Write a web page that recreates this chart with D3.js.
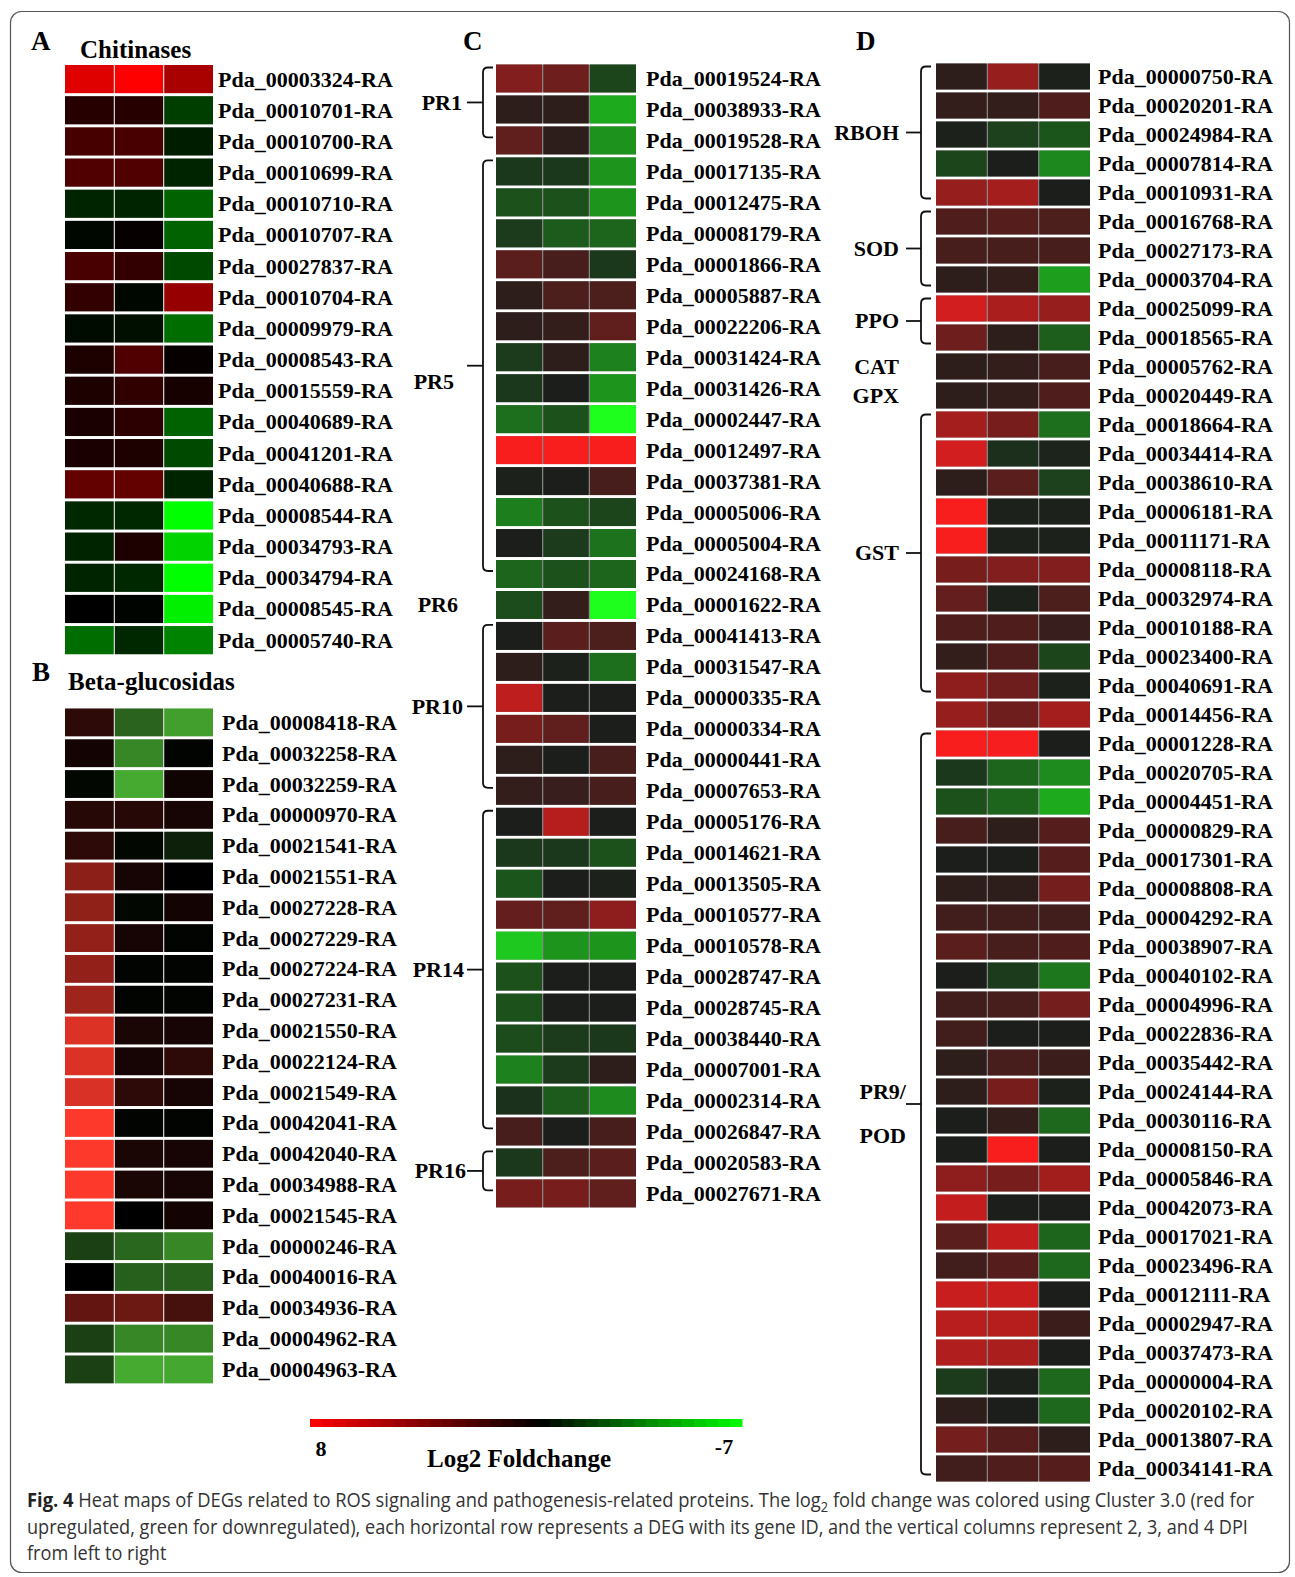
<!DOCTYPE html>
<html><head><meta charset="utf-8">
<script src="https://cdn.jsdelivr.net/npm/d3@7"></script>
<style>html,body{margin:0;padding:0;background:#fff}svg{display:block}</style>
</head><body>
<svg id="fig" width="1295" height="1577"></svg>
<script>
// ---------------- DATA ----------------
const timepoints = ["2 DPI", "3 DPI", "4 DPI"];

const genesA = ["Pda_00003324-RA","Pda_00010701-RA","Pda_00010700-RA","Pda_00010699-RA","Pda_00010710-RA","Pda_00010707-RA","Pda_00027837-RA","Pda_00010704-RA","Pda_00009979-RA","Pda_00008543-RA","Pda_00015559-RA","Pda_00040689-RA","Pda_00041201-RA","Pda_00040688-RA","Pda_00008544-RA","Pda_00034793-RA","Pda_00034794-RA","Pda_00008545-RA","Pda_00005740-RA"];
const valuesA = [[7,8,5.3],[1.2,1.2,-1.7],[2.2,2.3,-0.8],[2.5,2.5,-1],[-1,-1,-2.7],[-0.2,0.2,-2.7],[2.3,1.6,-2],[1.6,-0.2,4.7],[-0.3,-0.4,-3],[0.9,2.5,0.2],[0.9,1.5,0.7],[0.8,1.4,-2.7],[0.8,0.9,-2],[3.1,3.1,-1],[-1.1,-1.1,-7],[-1,0.9,-5.8],[-1,-1.1,-7],[0,-0.1,-6.6],[-3,-1.1,-3.6]];

const genesB = ["Pda_00008418-RA","Pda_00032258-RA","Pda_00032259-RA","Pda_00000970-RA","Pda_00021541-RA","Pda_00021551-RA","Pda_00027228-RA","Pda_00027229-RA","Pda_00027224-RA","Pda_00027231-RA","Pda_00021550-RA","Pda_00022124-RA","Pda_00021549-RA","Pda_00042041-RA","Pda_00042040-RA","Pda_00034988-RA","Pda_00021545-RA","Pda_00000246-RA","Pda_00040016-RA","Pda_00034936-RA","Pda_00004962-RA","Pda_00004963-RA"];
const valuesB = [[1.4,-2.8,-4.5],[0.6,-3.8,-0.1],[-0.2,-4.8,0.5],[1.2,1.2,0.7],[1.4,-0.2,-0.9],[4.4,0.7,0],[4.5,-0.2,0.6],[4.6,0.7,-0.1],[4.6,-0.1,-0.1],[5,-0.1,-0.1],[6.9,0.8,0.7],[6.9,0.7,1.4],[6.8,1.4,0.7],[7.9,-0.1,-0.1],[7.9,0.8,0.7],[7.9,0.8,0.7],[8,0,0.6],[-1.8,-2.9,-3.8],[0,-2.7,-2.7],[3.1,3.4,2.2],[-1.8,-3.8,-3.8],[-1.8,-4.8,-4.7]];

const genesC = ["Pda_00019524-RA","Pda_00038933-RA","Pda_00019528-RA","Pda_00017135-RA","Pda_00012475-RA","Pda_00008179-RA","Pda_00001866-RA","Pda_00005887-RA","Pda_00022206-RA","Pda_00031424-RA","Pda_00031426-RA","Pda_00002447-RA","Pda_00012497-RA","Pda_00037381-RA","Pda_00005006-RA","Pda_00005004-RA","Pda_00024168-RA","Pda_00001622-RA","Pda_00041413-RA","Pda_00031547-RA","Pda_00000335-RA","Pda_00000334-RA","Pda_00000441-RA","Pda_00007653-RA","Pda_00005176-RA","Pda_00014621-RA","Pda_00013505-RA","Pda_00010577-RA","Pda_00010578-RA","Pda_00028747-RA","Pda_00028745-RA","Pda_00038440-RA","Pda_00007001-RA","Pda_00002314-RA","Pda_00026847-RA","Pda_00020583-RA","Pda_00027671-RA"];
const valuesC = [[3.6,2.9,-1.2],[0.6,0.6,-4.4],[2.4,0.6,-3.6],[-0.8,-0.8,-3.7],[-1.6,-1.6,-3.7],[-0.9,-1.9,-2.2],[2.2,1.5,-0.8],[0.6,1.7,1.7],[0.6,0.8,2.4],[-0.9,0.6,-3.1],[-0.8,0,-3.7],[-2.5,-1.6,-7],[7.8,7.8,7.8],[-0.1,0,1.5],[-3,-1.6,-1.2],[0,-0.9,-2.6],[-2.2,-1.6,-2.2],[-1.4,0.8,-7],[0,2.2,1.7],[0.6,-0.1,-2.5],[5.7,0,0],[3.2,2.4,0],[0.6,0,1.5],[0.8,1,1.5],[0,5.4,0],[-0.8,-0.8,-1.6],[-1.7,0,-0.1],[2.5,2.4,4],[-5.3,-3.7,-3.7],[-1.6,0,0],[-1.6,0,0],[-1.4,-0.9,-0.8],[-3.1,-0.9,0.6],[-0.6,-1.9,-3.4],[1.5,0,1.5],[-0.8,1.7,2.2],[3.2,3.2,2.4]];
const groupsC = [
  {name:["PR1"], first:"Pda_00019524-RA", last:"Pda_00019528-RA", bracket:true},
  {name:["PR5"], first:"Pda_00017135-RA", last:"Pda_00024168-RA", bracket:true},
  {name:["PR6"], first:"Pda_00001622-RA", last:"Pda_00001622-RA", bracket:false},
  {name:["PR10"], first:"Pda_00041413-RA", last:"Pda_00007653-RA", bracket:true},
  {name:["PR14"], first:"Pda_00005176-RA", last:"Pda_00026847-RA", bracket:true},
  {name:["PR16"], first:"Pda_00020583-RA", last:"Pda_00027671-RA", bracket:true}
];

const genesD = ["Pda_00000750-RA","Pda_00020201-RA","Pda_00024984-RA","Pda_00007814-RA","Pda_00010931-RA","Pda_00016768-RA","Pda_00027173-RA","Pda_00003704-RA","Pda_00025099-RA","Pda_00018565-RA","Pda_00005762-RA","Pda_00020449-RA","Pda_00018664-RA","Pda_00034414-RA","Pda_00038610-RA","Pda_00006181-RA","Pda_00011171-RA","Pda_00008118-RA","Pda_00032974-RA","Pda_00010188-RA","Pda_00023400-RA","Pda_00040691-RA","Pda_00014456-RA","Pda_00001228-RA","Pda_00020705-RA","Pda_00004451-RA","Pda_00000829-RA","Pda_00017301-RA","Pda_00008808-RA","Pda_00004292-RA","Pda_00038907-RA","Pda_00040102-RA","Pda_00004996-RA","Pda_00022836-RA","Pda_00035442-RA","Pda_00024144-RA","Pda_00030116-RA","Pda_00008150-RA","Pda_00005846-RA","Pda_00042073-RA","Pda_00017021-RA","Pda_00023496-RA","Pda_00012111-RA","Pda_00002947-RA","Pda_00037473-RA","Pda_00000004-RA","Pda_00020102-RA","Pda_00013807-RA","Pda_00034141-RA"];
const valuesD = [[0.6,4.3,-0.1],[0.8,0.8,1.8],[-0.1,-1.1,-1.7],[-1.2,0,-3.3],[4.3,4.8,0],[1.8,2,1.7],[1.5,1.5,1.5],[0.6,0.8,-4],[6.4,5,4.3],[2.9,0.6,-2],[0.6,0.8,1.5],[0.6,0.8,1.8],[4.8,3.2,-2.5],[6.4,-0.5,-0.2],[0.6,2.2,-1.1],[7.8,-0.1,-0.1],[7.8,-0.1,-0.1],[3.2,3.6,3.6],[2.5,-0.1,1.7],[1.8,1.8,1],[0.8,1.8,-1.2],[4,2.9,-0.1],[4.3,2.9,4.8],[7.8,7.7,0],[-0.8,-2.2,-3.4],[-1.6,-2.2,-4.4],[1.5,0.6,2],[0,0,2],[0.6,0.6,3.1],[1.3,1.3,1.3],[2.2,1.5,1.8],[0,-0.9,-2.8],[1.3,1.5,3.1],[1.3,0,0],[0.6,1.5,1.1],[0.6,3.2,-0.1],[0,0.8,-2.3],[0,7.8,0],[4,3.2,4.7],[5.9,0,0],[2.2,5.9,-2.2],[1.3,2,-2.3],[6.1,6.1,0],[5.5,5.4,1.1],[5.2,5,0],[-0.9,-0.1,-2.3],[0.6,0,-2.3],[3.1,2,0.6],[1.3,1.8,2]];
const groupsD = [
  {name:["RBOH"], first:"Pda_00000750-RA", last:"Pda_00010931-RA", bracket:true},
  {name:["SOD"], first:"Pda_00016768-RA", last:"Pda_00003704-RA", bracket:true},
  {name:["PPO"], first:"Pda_00025099-RA", last:"Pda_00018565-RA", bracket:true},
  {name:["CAT"], first:"Pda_00005762-RA", last:"Pda_00005762-RA", bracket:false},
  {name:["GPX"], first:"Pda_00020449-RA", last:"Pda_00020449-RA", bracket:false},
  {name:["GST"], first:"Pda_00018664-RA", last:"Pda_00040691-RA", bracket:true},
  {name:["PR9/","POD"], first:"Pda_00001228-RA", last:"Pda_00034141-RA", bracket:true}
];

const legendDomain = [8, -7];
const legendTicks = ["8", "-7"];
const legendTitle = "Log2 Foldchange";
const captionBold = "Fig. 4";
const captionLine1 = ["Heat maps of DEGs related to ROS signaling and pathogenesis-related proteins. The log", "2", " fold change was colored using Cluster 3.0 (red for"];
const captionLine2 = "upregulated, green for downregulated), each horizontal row represents a DEG with its gene ID, and the vertical columns represent 2, 3, and 4 DPI";
const captionLine3 = "from left to right";

// ---------------- STYLE / LAYOUT ----------------
const SERIF = "'Liberation Serif','Times New Roman',Times,serif";
const SANS = "'Liberation Sans Narrow','Open Sans','Liberation Sans',sans-serif";
const palettes = {
  A: {neg:"#00ff00", mid:"#000000", pos:"#ff0000"},
  B: {neg:"#66f848", mid:"#000000", pos:"#ff3a2c"},
  C: {neg:"#1eff1e", mid:"#1c1e1c", pos:"#ff1e1e"}
};
// small layout nudges for group labels (dx, dy in px)
const labelNudge = {"PR5":[-8,16], "PR6":[-4,0], "PR10":[1,0], "PR14":[2,0], "PR16":[4,0], "PR9/":[7,-12], "POD":[7,-12]};

function colorScale(p){
  return d3.scaleLinear().domain([-7,0,8]).range([p.neg,p.mid,p.pos]).interpolate(d3.interpolateRgb).clamp(true);
}

const svg = d3.select("#fig");
svg.append("rect").attr("x",10.5).attr("y",11.5).attr("width",1279).attr("height",1561)
  .attr("rx",11).attr("fill","#fff").attr("stroke","#555").attr("stroke-width",1.2);

function heatmap(cfg){
  const g = svg.append("g");
  const x = d3.scaleBand().domain(timepoints).range([cfg.x0, cfg.x1]);
  const n = cfg.genes.length;
  const gapFrac = 3/cfg.step;
  const y = d3.scaleBand().domain(cfg.genes).range([cfg.top, cfg.top + n*cfg.step])
    .paddingInner(gapFrac).paddingOuter(gapFrac/2);
  const color = colorScale(cfg.palette);
  const rows = g.selectAll("g.row").data(cfg.genes.map((gn,i)=>({gene:gn, vals:cfg.values[i]})))
    .join("g").attr("class","row");
  rows.append("rect").attr("x",cfg.x0).attr("width",cfg.x1-cfg.x0)
    .attr("y",d=>y(d.gene)).attr("height",y.bandwidth()).attr("fill",cfg.sepColor);
  rows.selectAll("rect.cell").data(d=>d.vals.map((v,j)=>({gene:d.gene, t:timepoints[j], v})))
    .join("rect").attr("class","cell")
    .attr("x",d=>x(d.t)+(d.t===timepoints[0]?0:0.6))
    .attr("width",d=>x.bandwidth()-(d.t===timepoints[0]?0:0.6)-(d.t===timepoints[2]?0:0.6))
    .attr("y",d=>y(d.gene)).attr("height",y.bandwidth())
    .attr("fill",d=>color(d.v));
  g.selectAll("text.gene").data(cfg.genes).join("text").attr("class","gene")
    .attr("x",cfg.labelX).attr("y",d=>y(d)+y.bandwidth()/2).attr("dy","0.34em")
    .attr("font-family",SERIF).attr("font-weight","bold").attr("font-size",22).attr("fill","#000")
    .text(d=>d);
  return {x,y};
}

function groups(scales, list, o){
  const y = scales.y, bw = scales.y.bandwidth();
  const g = svg.append("g").attr("fill","none").attr("stroke","#111").attr("stroke-width",1.8);
  list.forEach(gr=>{
    const c1 = y(gr.first)+bw/2, c2 = y(gr.last)+bw/2;
    let top = c1 + o.topOff, bot = c2 + o.botOff;
    const mid = gr.bracket ? (top+bot)/2 : c1;
    if(gr.bracket){
      const xv = o.xv, r = 5, hk = o.hook;
      g.append("path").attr("d",
        `M${xv+hk},${top} L${xv+r},${top} Q${xv},${top} ${xv},${top+r} L${xv},${bot-r} Q${xv},${bot} ${xv+r},${bot} L${xv+hk},${bot}`);
      g.append("line").attr("x1",o.tickX).attr("x2",xv).attr("y1",mid).attr("y2",mid);
    }
    gr.name.forEach((nm,k)=>{
      const nd = labelNudge[nm] || [0,0];
      svg.append("text").attr("x",o.textX + nd[0]).attr("y",mid + nd[1] + k*44).attr("dy","0.34em")
        .attr("text-anchor","end").attr("font-family",SERIF).attr("font-weight","bold")
        .attr("font-size",22).attr("fill","#000").text(nm);
    });
  });
}

function label(txt,x,y,size,anchor){
  svg.append("text").attr("x",x).attr("y",y).attr("font-family",SERIF).attr("font-weight","bold")
    .attr("font-size",size).attr("text-anchor",anchor||"start").attr("fill","#000").text(txt);
}

// Panel A
label("A",31,50,27);
label("Chitinases",80,58,25);
heatmap({genes:genesA, values:valuesA, x0:65, x1:213, top:63.5, step:31.17, labelX:218, palette:palettes.A, sepColor:"#d9d9d9"});
// Panel B
label("B",32,681,27);
label("Beta-glucosidas",68,690,25);
heatmap({genes:genesB, values:valuesB, x0:65, x1:213, top:707, step:30.81, labelX:222, palette:palettes.B, sepColor:"#d9d9d9"});
// Panel C
label("C",463,50,27);
const sC = heatmap({genes:genesC, values:valuesC, x0:496, x1:636, top:63, step:30.97, labelX:646, palette:palettes.C, sepColor:"#8a8a8a"});
groups(sC, groupsC, {xv:483, hook:10, tickX:467, textX:462, topOff:-11, botOff:-3});
// Panel D
label("D",856,50,27);
const sD = heatmap({genes:genesD, values:valuesD, x0:936, x1:1090, top:62, step:29.0, labelX:1098, palette:palettes.C, sepColor:"#8a8a8a"});
groups(sD, groupsD, {xv:921, hook:10, tickX:906, textX:899, topOff:-10, botOff:6});

// Legend
(function(){
  const lx = d3.scaleLinear().domain(legendDomain).range([310, 742]);
  const color = colorScale(palettes.A);
  const nSteps = 36;
  const stepW = (legendDomain[1]-legendDomain[0])/nSteps;
  const steps = d3.range(0, nSteps).map(i => legendDomain[0] + stepW*i);
  svg.append("g").selectAll("rect").data(steps).join("rect")
    .attr("x",d=>lx(d)).attr("width",d=>lx(d+stepW)-lx(d)+0.5).attr("y",1419).attr("height",8)
    .attr("fill",d=>color(d + stepW/2));
  label(legendTicks[0], lx(8)+11, 1456, 22, "middle");
  label(legendTicks[1], lx(-7)-18, 1454, 22, "middle");
  label(legendTitle, 519, 1467, 25, "middle");
})();

// Caption
function fitLine(t, y, targetW, scaleRef){
  const nat = t.node().getComputedTextLength();
  const s = targetW ? targetW/nat : scaleRef;
  t.attr("transform",`translate(27,${y}) scale(${s},1)`);
  return s;
}
const cap1 = svg.append("text").attr("x",0).attr("y",0).attr("font-family",SANS).attr("font-size",20).attr("fill","#333");
cap1.append("tspan").attr("font-weight","bold").attr("fill","#222").text(captionBold + "  ");
cap1.append("tspan").text(captionLine1[0]);
cap1.append("tspan").attr("font-size",14).attr("dy",5).text(captionLine1[1]);
cap1.append("tspan").attr("dy",-5).text(captionLine1[2]);
fitLine(cap1, 1507, 1228);
const cap2 = svg.append("text").attr("x",0).attr("y",0).attr("font-family",SANS).attr("font-size",20).attr("fill","#333").text(captionLine2);
const sc2 = fitLine(cap2, 1534, 1222);
const cap3 = svg.append("text").attr("x",0).attr("y",0).attr("font-family",SANS).attr("font-size",20).attr("fill","#333").text(captionLine3);
fitLine(cap3, 1560, null, sc2);
</script>
</body></html>
